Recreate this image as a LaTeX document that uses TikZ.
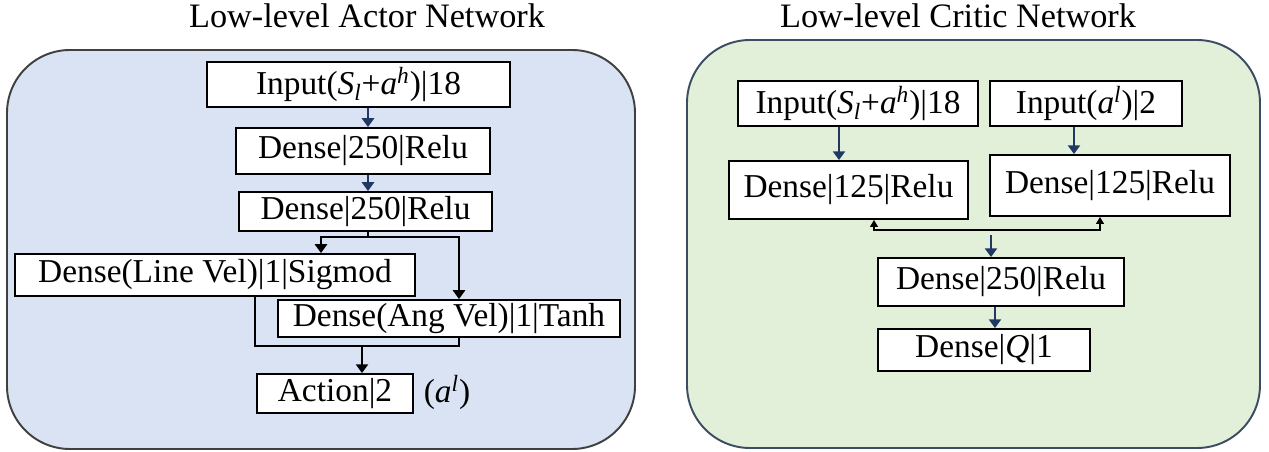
\documentclass[tikz,border=0pt]{standalone}
\usepackage{fontspec}
\setmainfont{Liberation Serif}
\usetikzlibrary{arrows.meta}
\definecolor{actorfill}{HTML}{DAE3F3}
\definecolor{criticfill}{HTML}{E2F0D9}
\definecolor{actoredge}{HTML}{404040}
\definecolor{criticedge}{HTML}{3C4D63}
\definecolor{navy}{HTML}{203864}
\tikzset{
  panel/.style={line width=1.1pt, rounded corners=1.26cm},
  layer/.style={draw=black, fill=white, line width=1.1pt, inner sep=0pt, font=\fontsize{19}{22}\selectfont},
  title/.style={font=\fontsize{19.5}{23}\selectfont},
  feed/.style={draw=navy, line width=0.9pt, -{Triangle[width=7pt,length=5pt]}},
  link/.style={draw=black, line width=0.9pt},
  tip/.style={link, -{Triangle[width=7pt,length=5pt]}},
  back/.style={link, {Triangle[width=4.5pt,length=4pt]}-{Triangle[width=4.5pt,length=4pt]}}
}
\newcommand{\inlow}{Input(\textit{S}\textsubscript{\textit{l}}+\textit{a}\textsuperscript{\textit{h}})|18}

\begin{document}
\begin{tikzpicture}[x=0.02cm, y=-0.02cm]
		%%%%% START %%%%%
		\useasboundingbox (0,0) rectangle (1269,452);
		
		% actor
		\draw[panel, fill=actorfill, draw=actoredge] (7,50) rectangle (635,449);
		\node[title] (actorttl) at (367,16) {Low-level Actor Network};
		
		\node[layer, minimum width=6.06cm, minimum height=0.90cm] (ain) at (358.5,84.5) {\inlow};
		\node[layer, minimum width=5.08cm, minimum height=0.92cm] (ad1) at (363,151) {Dense|250|Relu};
		\node[layer, minimum width=5.06cm, minimum height=0.78cm] (ad2) at (365.5,211.5) {Dense|250|Relu};
		\node[layer, minimum width=8.00cm, minimum height=0.84cm] (alv) at (215,275) {Dense(Line Vel)|1|Sigmod};
		\node[layer, minimum width=6.84cm, minimum height=0.74cm] (aav) at (449,318.5) {Dense(Ang Vel)|1|Tanh};
		\node[layer, minimum width=3.12cm, minimum height=0.78cm] (aact) at (335,393.5) {Action|2};
		\node[font=\fontsize{19}{22}\selectfont] (aal) at (447,392) {(\textit{a}\textsuperscript{\textit{l}})};
		
		\coordinate (ax) at (368,0);
		\draw[feed] (ain.south -| ax) -- (ad1.north -| ax);
		\draw[feed] (ad1.south -| ax) -- (ad2.north -| ax);
		
		\coordinate (sp) at (368,237);
		\coordinate (spl) at (321,237);
		\coordinate (spr) at (459,237);
		\draw[link] (ad2.south -| sp) -- (sp);
		\draw[tip] (sp) -- (spl) -- (alv.north -| spl);
		\draw[tip] (sp) -- (spr) -- (aav.north -| spr);
		
		\coordinate (ml) at (255,346);
		\coordinate (mr) at (459,346);
		\coordinate (mm) at (362,346);
		\draw[link] (alv.south -| ml) -- (ml) -- (mr) -- (aav.south -| mr);
		\draw[tip] (mm) -- (aact.north -| mm);
		
		% critic
		\draw[panel, fill=criticfill, draw=criticedge] (687,40) rectangle (1260,448);
		\node[title] (criticttl) at (958,16) {Low-level Critic Network};
		
		\node[layer, minimum width=4.80cm, minimum height=0.90cm] (cin1) at (858,103.5) {\inlow};
		\node[layer, minimum width=3.84cm, minimum height=0.90cm] (cin2) at (1086,103.5) {Input(\textit{a}\textsuperscript{\textit{l}})|2};
		\node[layer, minimum width=4.78cm, minimum height=1.16cm] (cd1) at (848.5,190) {Dense|125|Relu};
		\node[layer, minimum width=4.80cm, minimum height=1.22cm] (cd2) at (1110,185.5) {Dense|125|Relu};
		\node[layer, minimum width=4.92cm, minimum height=0.96cm] (cd3) at (1001,282) {Dense|250|Relu};
		\node[layer, minimum width=4.24cm, minimum height=0.84cm] (cq) at (984,350) {Dense|\textit{Q}|1};
		
		\coordinate (cx1) at (839,0);
		\coordinate (cx2) at (1074,0);
		\draw[feed] (cin1.south -| cx1) -- (cd1.north -| cx1);
		\draw[feed] (cin2.south -| cx2) -- (cd2.north -| cx2);
		
		\coordinate (jl) at (874,230);
		\coordinate (jr) at (1100,230);
		\draw[back] (cd1.south -| jl) -- (jl) -- (jr) -- (cd2.south -| jr);
		
		\coordinate (jm) at (991,235);
		\coordinate (cx3) at (995,0);
		\draw[feed] (jm) -- (cd3.north -| jm);
		\draw[feed] (cd3.south -| cx3) -- (cq.north -| cx3);
		%%%%% END %%%%%
\end{tikzpicture}
\end{document}
